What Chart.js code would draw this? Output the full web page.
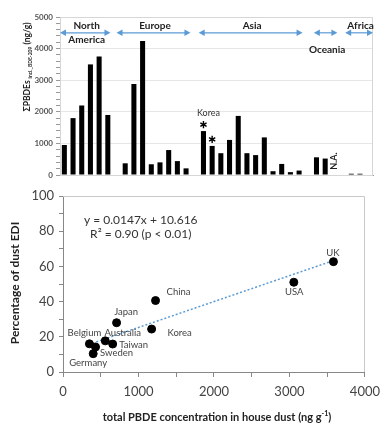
<!DOCTYPE html>
<html>
<head>
<meta charset="utf-8">
<script src="https://cdn.jsdelivr.net/npm/chart.js@4.4.1/dist/chart.umd.min.js"></script>
<style>
  html, body { margin: 0; padding: 0; background: #fff; width: 387px; height: 423px; overflow: hidden; }
  canvas { position: absolute; left: 0; }
  #topChart { top: 0; }
  #bottomChart { top: 180px; }
</style>
</head>
<body>
<canvas id="topChart" width="387" height="185"></canvas>
<canvas id="bottomChart" width="387" height="243"></canvas>
<script>
  // top panel: one slot per country study, null = empty slot / not available
  const barValues = [950, 1800, 2200, 3500, 3750, 1900, null,
    370, 2880, 4240, 340, 400, 790, 440, 210, null,
    1390, 920, 690, 1110, 1870, 690, 630, 1190, 120, 350, 90, 140, null,
    560, 520, null, null, 40, 40, 15];
  const slotLabels = barValues.map((v, i) => 'S' + (i + 1));
  const regionNames = ['North America', 'Europe', 'Asia', 'Oceania', 'Africa'];
  const regionSlots = [[0, 5.8], [6.5, 15], [15.95, 27.9], [29.2, 31.9], [32.8, 36]];
  const koreaSlots = [16, 17];
  const naSlot = 31;
  const yTicksTop = [0, 1000, 2000, 3000, 4000, 5000];

  // bottom panel
  const countries = ['Belgium', 'Sweden', 'Germany', 'Australia', 'Taiwan', 'Japan', 'Korea', 'China', 'USA', 'UK'];
  const pbde = [350, 431, 400, 560, 658, 710, 1174, 1226, 3058, 3583];
  const edi = [16.0, 14.2, 10.4, 17.7, 15.9, 28.0, 24.4, 40.6, 51.0, 62.7];
  const trendX = [340, 3590];
  const trendY = [15.6, 63.4];
  const xTicksBottom = [0, 1000, 2000, 3000, 4000];
  const yTicksBottom = [0, 20, 40, 60, 80, 100];

  // label offsets (px) from each point
  const labelOffsets = [[-5, -10.5], [21, 6], [-5, 9.5], [17.5, -7.5], [21, 0.5], [9.5, -11], [28, 4], [23, -9], [0.5, 10], [-0.5, -8.5]];

  const FONT = "Lato, 'DejaVu Sans', sans-serif";
  const arrowColor = '#5B9BD5';

  function arrow(ctx, x1, x2, y) {
    const h = 5, w = 3.2;
    ctx.strokeStyle = arrowColor; ctx.fillStyle = arrowColor; ctx.lineWidth = 1.2;
    ctx.beginPath(); ctx.moveTo(x1 + h, y); ctx.lineTo(x2 - h, y); ctx.stroke();
    ctx.beginPath(); ctx.moveTo(x1, y); ctx.lineTo(x1 + h + 1, y - w); ctx.lineTo(x1 + h + 1, y + w); ctx.closePath(); ctx.fill();
    ctx.beginPath(); ctx.moveTo(x2, y); ctx.lineTo(x2 - h - 1, y - w); ctx.lineTo(x2 - h - 1, y + w); ctx.closePath(); ctx.fill();
  }

  function star(ctx, cx, cy, r) {
    ctx.strokeStyle = '#000'; ctx.lineWidth = 1.4;
    ctx.beginPath();
    for (let k = 0; k < 3; k++) {
      const ang = Math.PI / 2 + k * Math.PI / 3;
      ctx.moveTo(cx + r * Math.cos(ang), cy + r * Math.sin(ang));
      ctx.lineTo(cx - r * Math.cos(ang), cy - r * Math.sin(ang));
    }
    ctx.stroke();
  }

  const topDecor = {
    id: 'topDecor',
    beforeDatasetsDraw(chart) {
      const { ctx, chartArea: a } = chart;
      ctx.save();
      ctx.strokeStyle = '#d6d6d6'; ctx.lineWidth = 1;
      ctx.strokeRect(Math.round(a.left) + 0.5, Math.round(a.top) + 0.5, a.width - 1, a.height);
      ctx.restore();
    },
    afterDatasetsDraw(chart) {
      const { ctx, chartArea: a, scales: { y } } = chart;
      const slot = a.width / barValues.length;
      const sx = s => a.left + s * slot;
      ctx.save();
      const ay = y.getPixelForValue(4500);
      regionSlots.forEach(r => arrow(ctx, sx(r[0]), sx(r[1]), ay));

      ctx.fillStyle = '#222';
      ctx.font = 'bold 10px ' + FONT;
      ctx.textAlign = 'center'; ctx.textBaseline = 'middle';
      const cx = i => sx((regionSlots[i][0] + regionSlots[i][1]) / 2) + 1.5;
      const above = y.getPixelForValue(4715), below = y.getPixelForValue(4290);
      ctx.fillText('North', cx(0), above);
      ctx.fillText('America', cx(0), below);
      ctx.fillText(regionNames[1], cx(1), above);
      ctx.fillText(regionNames[2], cx(2), above);
      ctx.fillText(regionNames[3], cx(3), y.getPixelForValue(3950));
      ctx.fillText(regionNames[4], cx(4), above);

      // Korea marks
      ctx.font = '9px ' + FONT; ctx.fillStyle = '#333';
      ctx.fillText('Korea', sx(koreaSlots[0] + 0.5) + 5, y.getPixelForValue(1970));
      koreaSlots.forEach(s => {
        star(ctx, sx(s + 0.5), y.getPixelForValue(barValues[s]) - 6.5, 3.6);
      });

      // N.A.
      ctx.save();
      ctx.translate(sx(naSlot + 0.5), y.getPixelForValue(440));
      ctx.rotate(-Math.PI / 2);
      ctx.font = 'bold 9px ' + FONT; ctx.fillStyle = '#222';
      ctx.fillText('N.A.', 0, 0);
      ctx.restore();

      // y title with subscript
      ctx.save();
      ctx.translate(27, 67);
      ctx.rotate(-Math.PI / 2);
      ctx.fillStyle = '#222';
      ctx.textBaseline = 'alphabetic'; ctx.textAlign = 'left';
      const mainF = 'bold 8.5px ' + FONT, subF = 'bold 5px ' + FONT;
      ctx.font = mainF; const w1 = ctx.measureText('ΣPBDEs').width;
      ctx.font = subF; const w2 = ctx.measureText('incl._BDE-209').width;
      ctx.font = mainF; const w3 = ctx.measureText(' (ng/g)').width;
      let x0 = -(w1 + w2 + w3 + 2) / 2;
      ctx.font = mainF; ctx.fillText('ΣPBDEs', x0, 3); x0 += w1 + 2;
      ctx.font = subF; ctx.fillText('incl._BDE-209', x0, 5); x0 += w2;
      ctx.font = mainF; ctx.fillText(' (ng/g)', x0, 3);
      ctx.restore();
      ctx.restore();
    }
  };

  new Chart(document.getElementById('topChart'), {
    type: 'bar',
    data: {
      labels: slotLabels,
      datasets: [{ data: barValues, backgroundColor: '#000', barPercentage: 0.58, categoryPercentage: 1 }]
    },
    options: {
      responsive: false,
      animation: false,
      layout: { padding: { top: 17, right: 14, left: 0, bottom: 0 } },
      plugins: { legend: { display: false }, tooltip: { enabled: false } },
      scales: {
        x: {
          grid: { display: false },
          ticks: { display: false },
          border: { color: '#999' },
          afterFit: s => { s.height = 10; }
        },
        y: {
          min: 0, max: 5000,
          afterFit: s => { s.width = 60; },
          ticks: {
            stepSize: 200, autoSkip: false, maxTicksLimit: 40, padding: 3,
            color: '#555', font: { family: FONT, size: 8, weight: 'bold' },
            callback: v => yTicksTop.includes(v) ? v : ''
          },
          grid: {
            color: c => (c.tick && c.tick.value % 1000 === 0 && c.tick.value > 0) ? '#e6e6e6' : 'rgba(0,0,0,0)',
            tickColor: '#999', tickLength: 4
          },
          border: { color: '#999' }
        }
      }
    },
    plugins: [topDecor]
  });

  const bottomDecor = {
    id: 'bottomDecor',
    beforeDatasetsDraw(chart) {
      const { ctx, chartArea: a } = chart;
      ctx.save();
      ctx.strokeStyle = '#c8c8c8'; ctx.lineWidth = 1;
      ctx.beginPath();
      ctx.moveTo(a.left, Math.round(a.top) + 0.5); ctx.lineTo(Math.round(a.right) - 0.5, Math.round(a.top) + 0.5);
      ctx.lineTo(Math.round(a.right) - 0.5, a.bottom);
      ctx.stroke();
      ctx.restore();
    },
    afterDatasetsDraw(chart) {
      const { ctx, scales: { x, y } } = chart;
      const meta = chart.getDatasetMeta(1);
      ctx.save();
      ctx.font = '9.5px ' + FONT; ctx.fillStyle = '#444';
      ctx.textAlign = 'center'; ctx.textBaseline = 'middle';
      meta.data.forEach((pt, i) => {
        ctx.fillText(countries[i], pt.x + labelOffsets[i][0], pt.y + labelOffsets[i][1]);
      });

      ctx.font = '12px ' + FONT; ctx.fillStyle = '#333';
      ctx.fillText('y = 0.0147x + 10.616', x.getPixelForValue(1030), y.getPixelForValue(86.4));
      ctx.fillText('R² = 0.90 (p < 0.01)', x.getPixelForValue(1030), y.getPixelForValue(78.3));

      // axis titles
      ctx.fillStyle = '#222';
      ctx.save();
      ctx.translate(15, 103); ctx.rotate(-Math.PI / 2);
      ctx.font = 'bold 12px ' + FONT;
      ctx.fillText('Percentage of dust EDI', 0, 0);
      ctx.restore();

      const mainF = 'bold 11px ' + FONT, supF = 'bold 7px ' + FONT;
      const t1 = 'total PBDE concentration in house dust (ng g', t2 = '-1', t3 = ')';
      ctx.font = mainF; const w1 = ctx.measureText(t1).width, w3 = ctx.measureText(t3).width;
      ctx.font = supF; const w2 = ctx.measureText(t2).width;
      let x0 = 217 - (w1 + w2 + w3) / 2;
      ctx.textAlign = 'left'; ctx.textBaseline = 'alphabetic';
      ctx.font = mainF; ctx.fillText(t1, x0, 241); x0 += w1;
      ctx.font = supF; ctx.fillText(t2, x0, 236); x0 += w2;
      ctx.font = mainF; ctx.fillText(t3, x0, 241);
      ctx.restore();
    }
  };

  new Chart(document.getElementById('bottomChart'), {
    type: 'scatter',
    data: {
      datasets: [
        {
          data: trendX.map((v, i) => ({ x: v, y: trendY[i] })),
          showLine: true, borderColor: arrowColor, borderWidth: 1.5, borderDash: [2, 2],
          pointRadius: 0, order: 2
        },
        {
          data: pbde.map((v, i) => ({ x: v, y: edi[i] })),
          backgroundColor: '#000', borderColor: '#000', pointRadius: 4, order: 1
        }
      ]
    },
    options: {
      responsive: false,
      animation: false,
      layout: { padding: { top: 16, right: 14, left: 0, bottom: 0 } },
      plugins: { legend: { display: false }, tooltip: { enabled: false } },
      scales: {
        x: {
          type: 'linear', min: 0, max: 4000,
          afterFit: s => { s.height = 51; },
          ticks: {
            stepSize: 500, autoSkip: false, padding: 7, color: '#444',
            font: { family: FONT, size: 13 },
            callback: v => xTicksBottom.includes(v) ? v : ''
          },
          grid: { drawOnChartArea: false, tickLength: 5, tickColor: '#888' },
          border: { color: '#888' }
        },
        y: {
          min: 0, max: 100,
          afterFit: s => { s.width = 63; },
          ticks: {
            stepSize: 10, autoSkip: false, padding: 5, color: '#444',
            font: { family: FONT, size: 13 },
            callback: v => yTicksBottom.includes(v) ? v : ''
          },
          grid: { drawOnChartArea: false, tickLength: 4, tickColor: '#888' },
          border: { color: '#888' }
        }
      }
    },
    plugins: [bottomDecor]
  });
</script>
</body>
</html>
